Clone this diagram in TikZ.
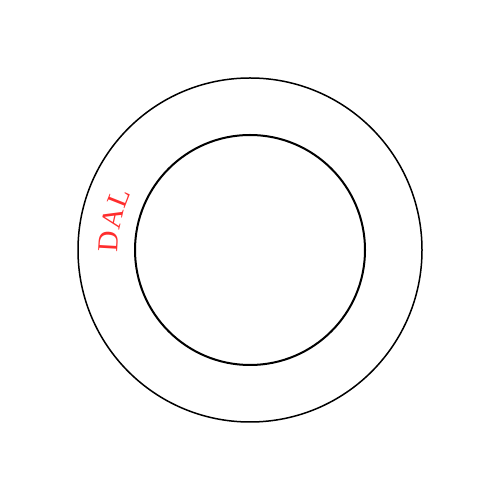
\documentclass[tikz,border=0pt]{standalone}
\usepackage{fontspec}
\newfontfamily\dalfont{Liberation Serif}
\usetikzlibrary{calc}
\definecolor{dalred}{RGB}{255,45,45}
\tikzset{dal/.style={text=dalred,font=\dalfont\fontsize{29}{32}\selectfont,anchor=base,inner sep=0pt}}
\begin{document}
\begin{tikzpicture}[x=1pt,y=1pt]
\useasboundingbox (0,0) rectangle (500,500);
\coordinate (c) at (250,250);
\draw[line width=1.5pt] (c) circle[radius=172];
\draw[line width=2pt] (c) circle[radius=115];
\node[dal,rotate=86.75] (d) at ($(c)+(176.75:132)$) {D};
\node[dal,rotate=77] (a) at ($(c)+(167:132)$) {A};
\node[dal,rotate=68.4] (l) at ($(c)+(158.4:132)$) {L};
\end{tikzpicture}
\end{document}
